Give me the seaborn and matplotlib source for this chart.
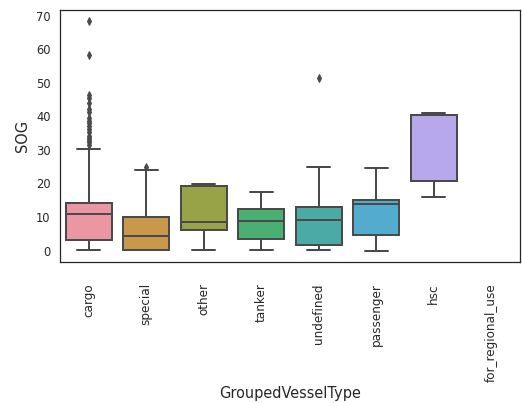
import numpy as np
import pandas as pd
import matplotlib
matplotlib.use("Agg")
import matplotlib.pyplot as plt
import seaborn as sns

# Vessel type groups in plotting order
categories = ["cargo", "special", "other", "tanker", "undefined",
              "passenger", "hsc", "for_regional_use"]

# Speed-over-ground summary per group (knots): whisker ends, quartiles, median
whisker_low = [0.2, 0.2, 0.2, 0.2, 0.2, 0.0, 15.9, None]
quartile_1 = [3.2, 0.3, 6.0, 3.5, 1.7, 4.5, 20.6, None]
median_sog = [10.9, 4.2, 8.4, 8.8, 9.0, 13.9, 40.3, None]
quartile_3 = [14.2, 10.0, 19.2, 12.3, 13.1, 15.2, 40.4, None]
whisker_high = [30.3, 24.0, 19.9, 17.5, 24.8, 24.6, 41.0, None]

# Individual readings beyond the whiskers
cargo_outliers = [68.3, 58.3, 46.5, 45.6, 44.0, 42.2, 41.2, 39.6, 38.6,
                  38.0, 37.2, 36.3, 35.4, 34.2, 33.6, 33.0, 32.4, 31.6]
special_outliers = [25.0]
undefined_outliers = [51.5]
outliers = {"cargo": cargo_outliers, "special": special_outliers,
            "undefined": undefined_outliers}

# Expand each summary into a frequency table of observations
rows = []
for i, cat in enumerate(categories):
    if median_sog[i] is None:
        continue
    extra = outliers.get(cat, [])
    block = len(extra) + 2
    vals = ([whisker_low[i]] + [quartile_1[i]] * block + [median_sog[i]] * block
            + [quartile_3[i]] * block + [whisker_high[i]] + list(extra))
    rows += [(cat, v) for v in vals]
df = pd.DataFrame(rows, columns=["GroupedVesselType", "SOG"])

sns.set_theme(style="white", context="notebook")
plt.rcParams["font.family"] = ["DejaVu Sans"]
plt.rcParams["axes.labelsize"] = 14.5
plt.rcParams["xtick.labelsize"] = 12
plt.rcParams["ytick.labelsize"] = 11.5

fig = plt.figure(figsize=(522 / 72, 403 / 72), dpi=72)
ax = fig.add_axes([60 / 522, 1 - 262 / 403, 460 / 522, 252 / 403])

line_gray = "#4a4a4a"
sns.boxplot(data=df, x="GroupedVesselType", y="SOG", hue="GroupedVesselType",
            order=categories, hue_order=categories,
            palette=sns.husl_palette(len(categories), l=.7),
            saturation=0.75, width=0.8, linewidth=2, linecolor=line_gray,
            flierprops=dict(marker="d", markersize=5, markerfacecolor=line_gray,
                            markeredgecolor=line_gray),
            legend=False, ax=ax)

ax.set_xlim(-0.5, len(categories) - 0.5)
ax.set_xticks(range(len(categories)))
ax.set_xticklabels(categories, rotation=90)
ax.set_yticks(range(0, 71, 10))
ax.tick_params(axis="x", pad=15)
ax.yaxis.labelpad = 6
for s in ax.spines.values():
    s.set_visible(True)
    s.set_color(".15")

fig.savefig("out.png", dpi=72)
